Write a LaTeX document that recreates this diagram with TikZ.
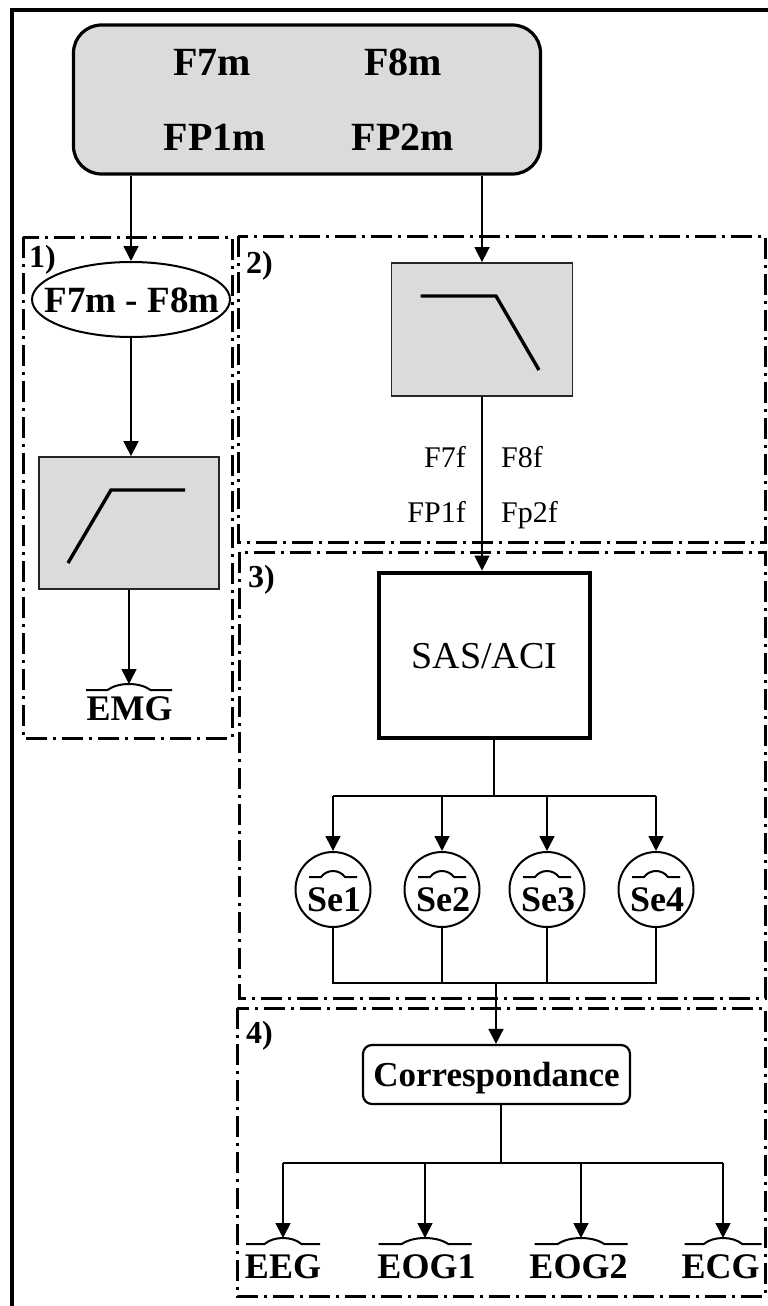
\documentclass[tikz,border=0pt]{standalone}
\usepackage{fontspec}
\setmainfont{Liberation Serif}
\usetikzlibrary{arrows.meta,shapes.geometric,calc}
\newcommand{\fsz}[1]{\fontsize{#1}{#1}\selectfont}
\tikzset{
  pics/hump/.style={code={
    \draw[line width=2pt] (-#1/2,6) -- (-#1/4,6) .. controls (-#1/8,-2) and (#1/8,-2) .. (#1/4,6) -- (#1/2,6);
  }}
}
\begin{document}
\begin{tikzpicture}[x=1pt,y=-1pt,
  frame/.style={line width=3pt, dash pattern=on 21pt off 6pt on 3pt off 6pt},
  conn/.style={line width=1.6pt,-{Triangle[length=15pt,width=15pt]}},
  wire/.style={line width=1.6pt},
  txt/.style={anchor=base, inner sep=0pt},
  graybox/.style={draw=black!85, line width=1.8pt, fill=black!14, inner sep=0pt},
  filt/.style={line width=3.4pt},
  sebox/.style={circle, draw, line width=2pt, minimum size=75pt, inner sep=0pt},
  lab/.style={anchor=base west, inner sep=0pt, font=\bfseries\fsz{32}},
  outlab/.style={txt, font=\bfseries\fsz{36}}
]
\useasboundingbox (0,0) rectangle (768,1306);
\clip (0,0) rectangle (768,1306);

% outer frame
\draw[line width=3.2pt] (12,1312) -- (12,10) -- (772,10);

% top box
\node[draw, line width=3.2pt, rounded corners=28pt, fill=black!14, minimum width=467pt, minimum height=149pt, inner sep=0pt] (top) at (307,99.5) {};
\node[txt, font=\bfseries\fsz{40}] (tf7) at (212,75) {F7m};
\node[txt, font=\bfseries\fsz{40}] (tf8) at (403,75) {F8m};
\node[txt, font=\bfseries\fsz{40}] (tfp1) at (215,150) {FP1m};
\node[txt, font=\bfseries\fsz{40}] (tfp2) at (403,150) {FP2m};

% group frames
\draw[frame] (23,237) rectangle (232,738);
\draw[frame] (238,236) rectangle (765,542);
\draw[frame] (239,552) rectangle (765,998);
\draw[frame] (237,1008) rectangle (765,1296);
\node[lab] (g1) at (29,267) {1)};
\node[lab] (g2) at (246,273) {2)};
\node[lab] (g3) at (248,587) {3)};
\node[lab] (g4) at (246,1043) {4)};

% group 1
\node[draw, ellipse, line width=2pt, minimum width=198pt, minimum height=75pt, inner sep=0pt] (ell) at (131,299.5) {};
\node[txt, font=\bfseries\fsz{37}] (ellt) at (132,312) {F7m - F8m};
\node[graybox, minimum width=180pt, minimum height=132pt] (hp) at (129,523) {};
\draw[filt] (68,563) -- (111,490) -- (185,490);
\coordinate (emgh) at (129,684);
\pic at (emgh) {hump=86};
\node[outlab] (emg) at (129.5,720) {EMG};

\draw[conn] (top.south -| ell.north) -- (ell.north);
\draw[conn] (ell.south) -- (ell.south |- hp.north);
\draw[conn] (hp.south) -- (emgh);

% group 2
\node[graybox, minimum width=181pt, minimum height=133pt] (lp) at (482,329.5) {};
\draw[filt] (420.5,296) -- (496,296) -- (539,370);
\node[txt, anchor=base east, font=\fsz{30}] (f7f) at (466,467) {F7f};
\node[txt, anchor=base west, font=\fsz{30}] (f8f) at (501,467) {F8f};
\node[txt, anchor=base east, font=\fsz{30}] (fp1f) at (466,522) {FP1f};
\node[txt, anchor=base west, font=\fsz{30}] (fp2f) at (501,522) {Fp2f};

\draw[conn] (top.south -| lp.north) -- (lp.north);

% group 3
\node[draw, line width=4.8pt, minimum width=211pt, minimum height=165pt, inner sep=0pt,
      font=\fsz{38}, text height=25pt, text depth=0pt] (sas) at (484.5,655.5) {SAS/ACI};
\draw[conn] (lp.south) -- (lp.south |- sas.north);

\node[sebox] (se1) at (333,889.5) {};
\node[sebox] (se2) at (442,889.5) {};
\node[sebox] (se3) at (547,889.5) {};
\node[sebox] (se4) at (656,889.5) {};
\node[txt, font=\bfseries\fsz{36}] (se1t) at (334,911) {Se1};
\node[txt, font=\bfseries\fsz{36}] (se2t) at (443,911) {Se2};
\node[txt, font=\bfseries\fsz{36}] (se3t) at (548,911) {Se3};
\node[txt, font=\bfseries\fsz{36}] (se4t) at (657,911) {Se4};
\pic at (333,871) {hump=48};
\pic at (442,871) {hump=48};
\pic at (547,871) {hump=48};
\pic at (656,871) {hump=48};

\coordinate (bus) at (494,796);
\draw[wire] (sas.south -| bus) -- (bus);
\draw[wire] (se1.north |- bus) -- (se4.north |- bus);
\draw[conn] (se1.north |- bus) -- (se1.north);
\draw[conn] (se2.north |- bus) -- (se2.north);
\draw[conn] (se3.north |- bus) -- (se3.north);
\draw[conn] (se4.north |- bus) -- (se4.north);

\coordinate (col) at (496,983);
\draw[wire] (se1.south) -- (se1.south |- col) -- (se4.south |- col) -- (se4.south);
\draw[wire] (se2.south) -- (se2.south |- col);
\draw[wire] (se3.south) -- (se3.south |- col);

% group 4
\node[draw, line width=2.2pt, rounded corners=9pt, minimum width=267pt, minimum height=59pt, inner sep=0pt,
      font=\bfseries\fsz{35}, text height=23pt, text depth=0pt] (corr) at (496.5,1074.5) {Correspondance};
\draw[conn] (col) -- (col |- corr.north);

\coordinate (eegh) at (283,1238);
\coordinate (eog1h) at (425,1238);
\coordinate (eog2h) at (581,1238);
\coordinate (ecgh) at (723,1238);
\pic at (eegh) {hump=74};
\pic at (eog1h) {hump=93};
\pic at (eog2h) {hump=93};
\pic at (ecgh) {hump=77};
\node[outlab] (eeg) at (283,1278) {EEG};
\node[outlab] (eog1) at (426.5,1278) {EOG1};
\node[outlab] (eog2) at (578.5,1278) {EOG2};
\node[outlab] (ecg) at (720.5,1278) {ECG};

\coordinate (bus2) at (501,1163);
\draw[wire] (corr.south -| bus2) -- (bus2);
\draw[wire] (eegh |- bus2) -- (ecgh |- bus2);
\draw[conn] (eegh |- bus2) -- (eegh);
\draw[conn] (eog1h |- bus2) -- (eog1h);
\draw[conn] (eog2h |- bus2) -- (eog2h);
\draw[conn] (ecgh |- bus2) -- (ecgh);
\end{tikzpicture}
\end{document}
